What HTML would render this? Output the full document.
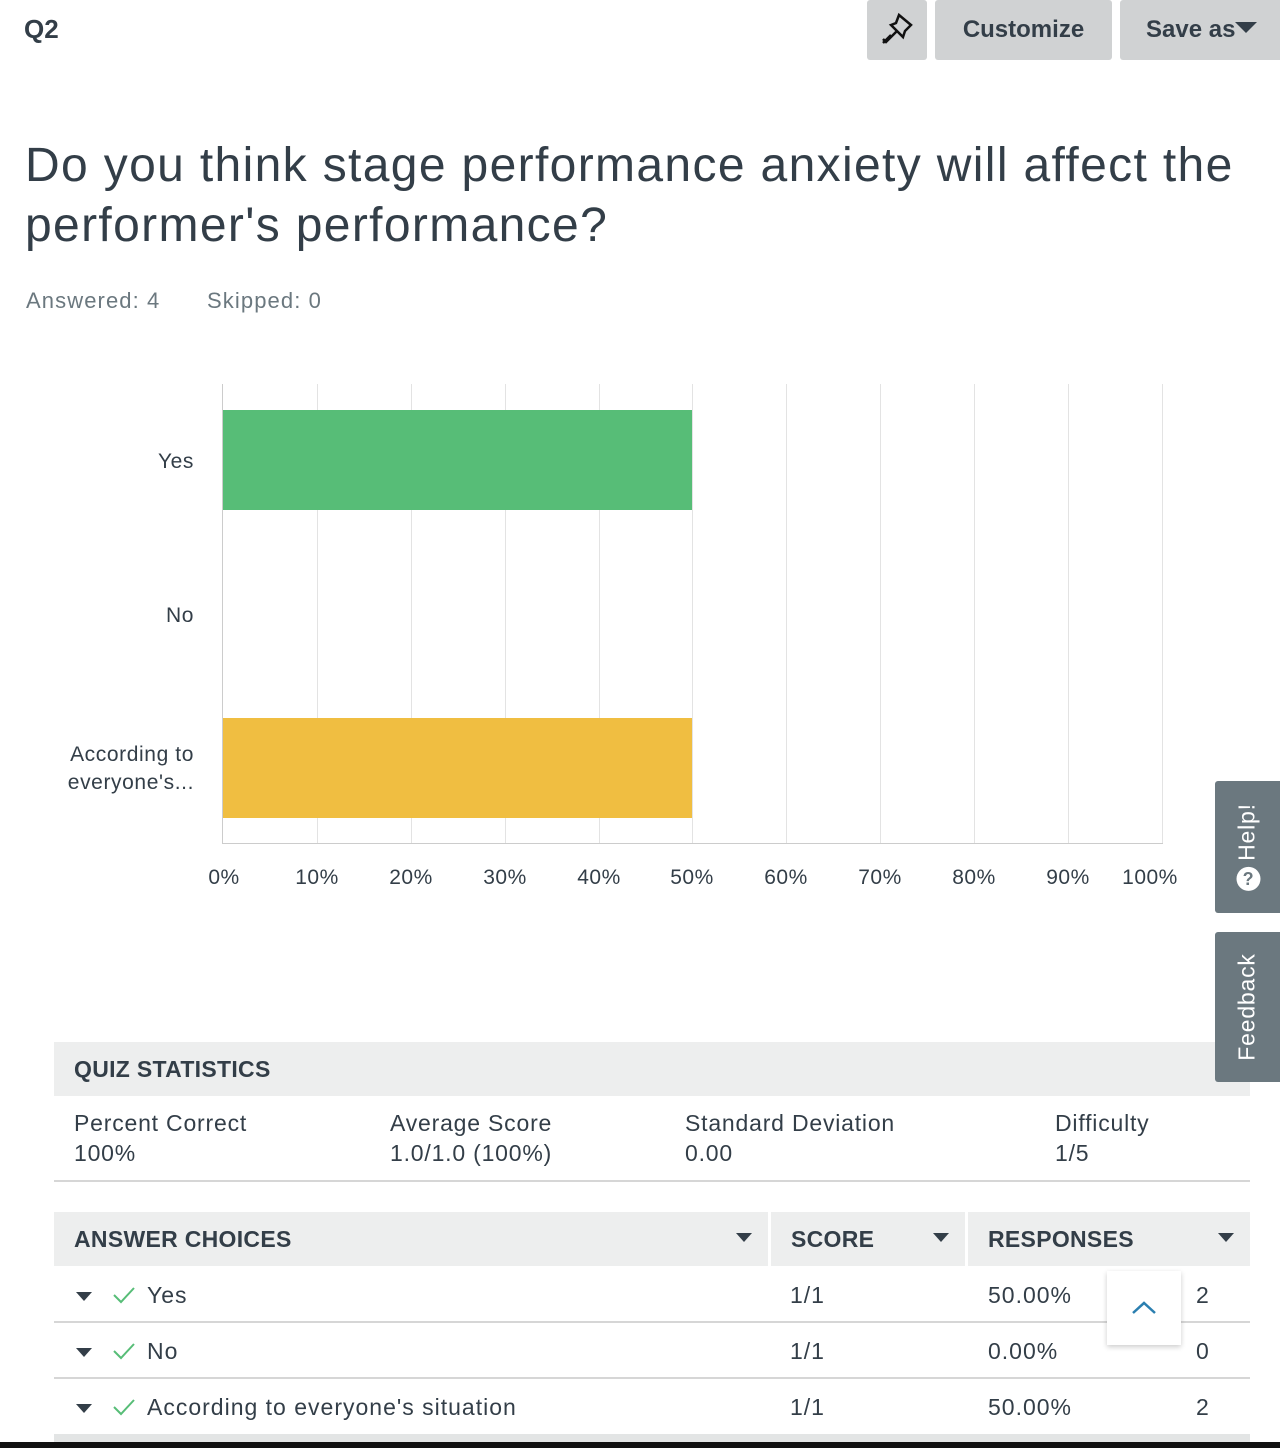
<!DOCTYPE html>
<html><head><meta charset="utf-8"><style>
*{margin:0;padding:0;box-sizing:border-box}
body{width:1280px;height:1448px;background:#fff;font-family:"Liberation Sans",sans-serif;color:#333e48;position:relative;overflow:hidden}
.a{position:absolute;white-space:nowrap}
.btn{position:absolute;top:0;height:60px;background:#d0d2d3;border-radius:3px;font-weight:bold;font-size:24px;color:#333e48;text-align:center;line-height:60px}
.g{position:absolute;top:384px;height:460px;width:1px;background:#e3e3e3}
.tick{position:absolute;top:866px;font-size:21px;color:#333e48;transform:translateX(-50%);letter-spacing:.5px}
.lbl{font-size:21px;color:#333e48;text-align:right;letter-spacing:.6px}
.hd{position:absolute;background:#edeeee;font-weight:bold;font-size:23px;line-height:54px;padding-left:20px;letter-spacing:.3px}
.row{position:absolute;left:54px;width:1196px;height:56px;border-bottom:2px solid #d6d6d6;font-size:23px;line-height:56px;letter-spacing:1px}
.row > span{position:absolute}
.tri{display:inline-block;width:0;height:0;border-left:8px solid transparent;border-right:8px solid transparent;border-top:9px solid #333e48}
.st{position:absolute;top:1108px;font-size:23px;line-height:30px;letter-spacing:.8px}
</style></head><body>
<div class="a" style="left:24px;top:14px;font-size:26px;font-weight:bold">Q2</div>
<div class="btn" style="left:867px;width:60px">
<svg width="40" height="40" viewBox="0 0 40 40" style="margin-top:10px"><path d="M22 5 L34 15 L28 21 L26 27 L14 15 L19 13 Z M14 25 L6 33 M20 21 L9 32 L6 29" fill="none" stroke="#111" stroke-width="2.5"/></svg></div>
<div class="btn" style="left:935px;width:177px">Customize</div>
<div class="btn" style="left:1120px;width:170px;text-align:left;padding-left:26px">Save as<span class="tri" style="border-left-width:11px;border-right-width:11px;border-top-width:11px;vertical-align:4px"></span></div>
<div class="a" style="left:25px;top:136px;font-size:48px;line-height:60px;color:#333e48;white-space:normal;width:1255px;letter-spacing:1.35px">Do you think stage performance anxiety will affect the performer's performance?</div>
<div class="a" style="left:26px;top:288px;font-size:22px;color:#6b787f;letter-spacing:1.1px">Answered: 4</div>
<div class="a" style="left:207px;top:288px;font-size:22px;color:#6b787f;letter-spacing:1.1px">Skipped: 0</div>

<div class="g" style="left:222px;background:#ccc"></div>
<div class="g" style="left:317px"></div><div class="g" style="left:411px"></div><div class="g" style="left:505px"></div><div class="g" style="left:599px"></div><div class="g" style="left:692px"></div><div class="g" style="left:786px"></div><div class="g" style="left:880px"></div><div class="g" style="left:974px"></div><div class="g" style="left:1068px"></div><div class="g" style="left:1162px"></div>
<div class="a" style="left:222px;top:843px;width:941px;height:1px;background:#ccc"></div>
<div class="a" style="left:223px;top:410px;width:469px;height:100px;background:#57bd77"></div>
<div class="a" style="left:223px;top:718px;width:469px;height:100px;background:#f0be41"></div>
<div class="a lbl" style="right:1086px;top:450px">Yes</div>
<div class="a lbl" style="right:1086px;top:604px">No</div>
<div class="a lbl" style="right:1086px;top:741px;line-height:28px">According to<br>everyone's...</div>
<div class="tick" style="left:224px">0%</div><div class="tick" style="left:317px">10%</div><div class="tick" style="left:411px">20%</div><div class="tick" style="left:505px">30%</div><div class="tick" style="left:599px">40%</div><div class="tick" style="left:692px">50%</div><div class="tick" style="left:786px">60%</div><div class="tick" style="left:880px">70%</div><div class="tick" style="left:974px">80%</div><div class="tick" style="left:1068px">90%</div><div class="tick" style="left:1150px">100%</div>

<div class="hd" style="left:54px;top:1042px;width:1196px;">QUIZ STATISTICS</div>
<div class="st" style="left:74px">Percent Correct<br>100%</div>
<div class="st" style="left:390px">Average Score<br>1.0/1.0 (100%)</div>
<div class="st" style="left:685px">Standard Deviation<br>0.00</div>
<div class="st" style="left:1055px">Difficulty<br>1/5</div>
<div class="a" style="left:54px;top:1180px;width:1196px;height:2px;background:#d6d6d6"></div>

<div class="hd" style="left:54px;top:1212px;width:714px">ANSWER CHOICES<span class="tri" style="position:absolute;left:682px;top:21px"></span></div>
<div class="hd" style="left:771px;top:1212px;width:194px">SCORE<span class="tri" style="position:absolute;left:162px;top:21px"></span></div>
<div class="hd" style="left:968px;top:1212px;width:282px">RESPONSES<span class="tri" style="position:absolute;left:250px;top:21px"></span></div>

<div class="row" style="top:1267px"><span class="tri" style="left:22px;top:25px"></span><svg style="position:absolute;left:58px;top:18px" width="24" height="20"><path d="M2 10 L9 17 L22 3" fill="none" stroke="#57bd77" stroke-width="2"/></svg><span style="left:93px">Yes</span><span style="left:736px">1/1</span><span style="left:934px">50.00%</span><span style="left:1142px">2</span></div>
<div class="row" style="top:1323px"><span class="tri" style="left:22px;top:25px"></span><svg style="position:absolute;left:58px;top:18px" width="24" height="20"><path d="M2 10 L9 17 L22 3" fill="none" stroke="#57bd77" stroke-width="2"/></svg><span style="left:93px">No</span><span style="left:736px">1/1</span><span style="left:934px">0.00%</span><span style="left:1142px">0</span></div>
<div class="row" style="top:1379px;border:none"><span class="tri" style="left:22px;top:25px"></span><svg style="position:absolute;left:58px;top:18px" width="24" height="20"><path d="M2 10 L9 17 L22 3" fill="none" stroke="#57bd77" stroke-width="2"/></svg><span style="left:93px">According to everyone's situation</span><span style="left:736px">1/1</span><span style="left:934px">50.00%</span><span style="left:1142px">2</span></div>
<div class="a" style="left:54px;top:1434px;width:1196px;height:8px;background:#e3e5e5"></div>
<div class="a" style="left:0;top:1442px;width:1280px;height:6px;background:#111"></div>

<div class="a" style="left:1107px;top:1271px;width:74px;height:74px;background:#fff;box-shadow:0 2px 5px rgba(0,0,0,.2)"><svg width="74" height="74"><path d="M26 42 L37 32 L48 42" fill="none" stroke="#2b7fb0" stroke-width="2.5"/></svg></div>

<div class="a" style="left:1215px;top:781px;width:65px;height:132px;background:#6b787f;border-radius:3px 0 0 3px"><div style="position:absolute;left:32px;top:66px;transform:translate(-50%,-50%) rotate(-90deg);color:#fff;font-size:23px;white-space:nowrap;letter-spacing:.8px"><span style="display:inline-block;width:24px;height:24px;border-radius:50%;background:#fff;color:#6b787f;font-size:18px;font-weight:bold;text-align:center;line-height:24px;transform:rotate(90deg);margin-right:6px">?</span>Help!</div></div>
<div class="a" style="left:1215px;top:932px;width:65px;height:150px;background:#6b787f;border-radius:3px 0 0 3px"><div style="position:absolute;left:32px;top:75px;transform:translate(-50%,-50%) rotate(-90deg);color:#fff;font-size:23px;white-space:nowrap;letter-spacing:.8px">Feedback</div></div>
</body></html>
